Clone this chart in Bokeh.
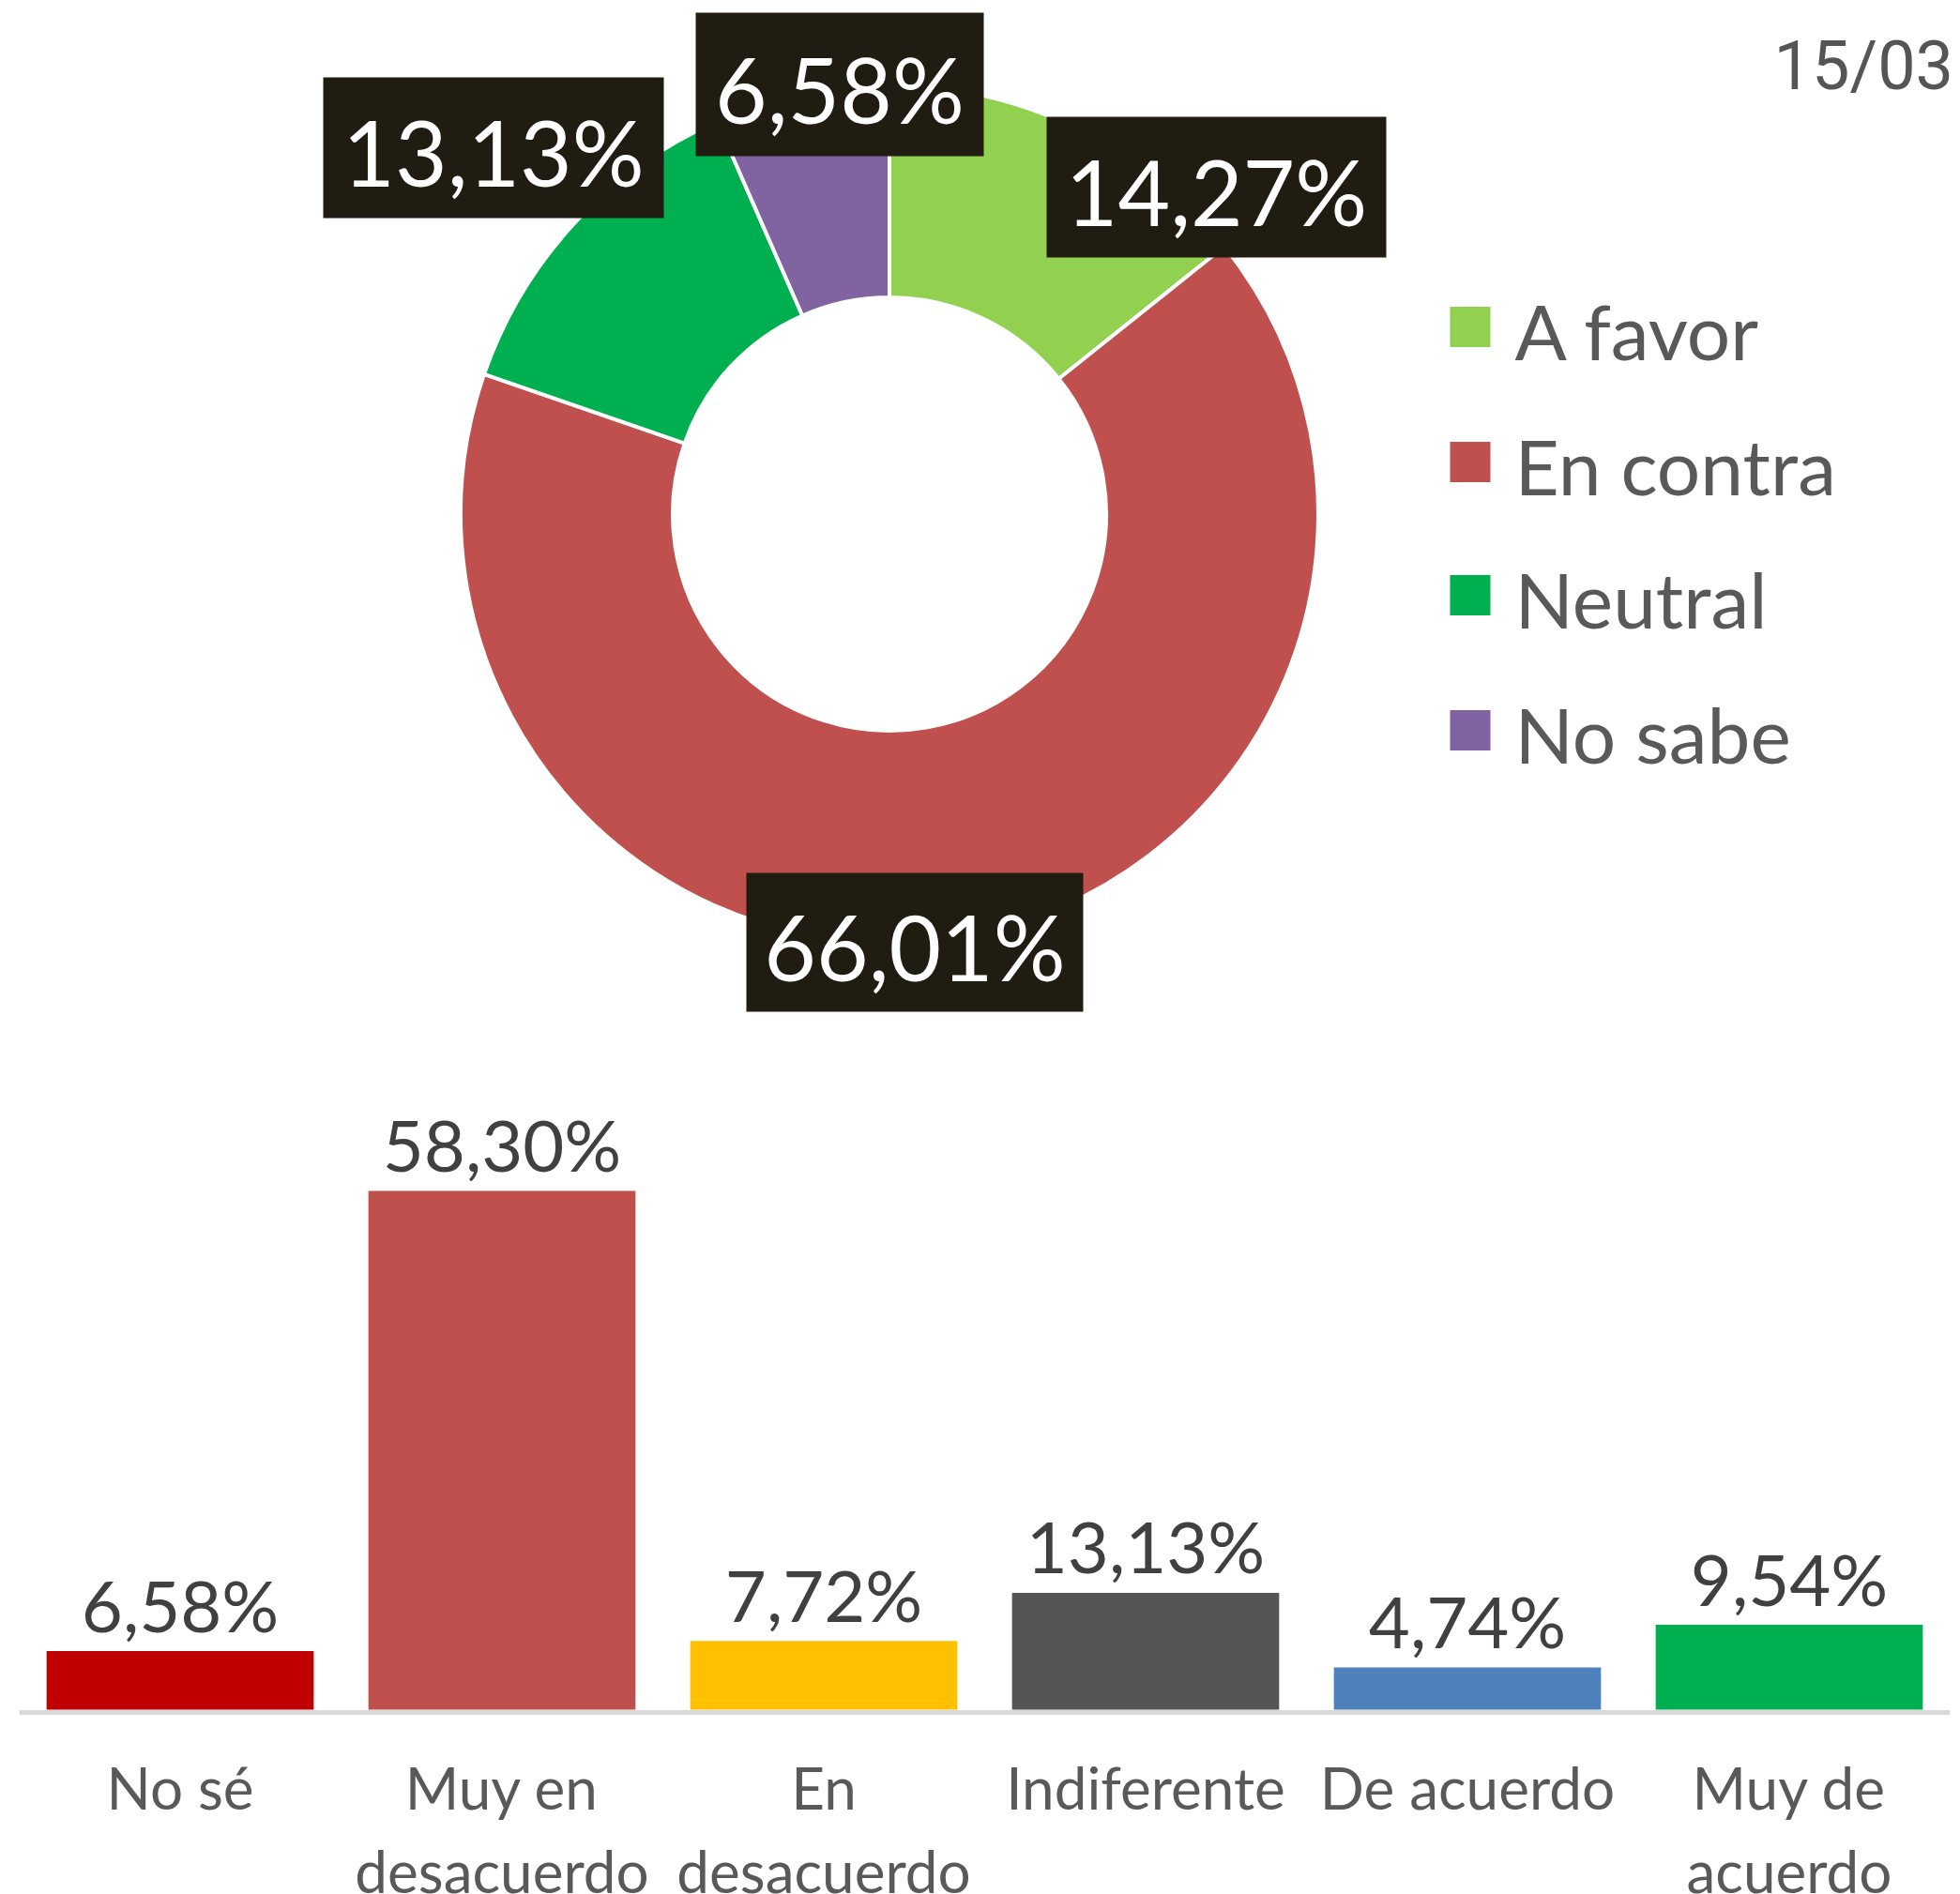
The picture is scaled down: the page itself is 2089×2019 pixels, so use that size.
from bokeh.plotting import figure
from bokeh.models import Range1d, ColumnDataSource, FactorRange, Label
from bokeh.layouts import column
from bokeh.embed import file_html
from bokeh.resources import INLINE
from bokeh.core.properties import value
import math

# ---------------- data ----------------
donut_labels = ["A favor", "En contra", "Neutral", "No sabe"]
donut_values = [14.27, 66.01, 13.13, 6.58]
donut_colors = ["#92D050", "#C0504D", "#00B050", "#8064A2"]

bar_categories = ["No sé", "Muy en\ndesacuerdo", "En\ndesacuerdo", "Indiferente", "De acuerdo", "Muy de\nacuerdo"]
bar_values = [6.58, 58.30, 7.72, 13.13, 4.74, 9.54]
bar_colors = ["#C00000", "#C0504D", "#FFC000", "#555555", "#4F81BD", "#00B050"]

date_text = "15/03/"

def fmt(v):
    return f"{v:.2f}%".replace(".", ",")

# ---------------- layout constants (page pixels) ----------------
W = 2089
H1 = 1140
H2 = 2019 - H1
BL, BR = 20, 11          # left / right borders shared by both figures (frames get aligned)

def py(y):  # page y -> data y in top figure
    return H1 - y

CX, CY = 947.5, 547.5
R_OUT, R_IN = 457, 231
lab_dx = [348.5, 27, -422, -53]
lab_dy = [-348.5, 456.5, -390.5, -458]
lab_w = [362, 359, 363, 307]
lab_h = [150, 148, 150, 153]
leg_y = [348, 492, 634, 778]

FONT = "Lato"

# ---------------- donut figure ----------------
p1 = figure(width=W, height=H1, x_range=Range1d(BL, W - BR), y_range=Range1d(0, H1),
            x_axis_type=None, y_axis_type=None, toolbar_location=None,
            output_backend="svg", min_border=0, min_border_left=BL, min_border_right=BR)
p1.grid.visible = False
p1.outline_line_color = None
p1.background_fill_color = "white"
p1.border_fill_color = "white"

total = sum(donut_values)
starts, ends = [], []
cum = 0.0
for v in donut_values:
    starts.append(math.pi / 2 - 2 * math.pi * cum / total)
    cum += v
    ends.append(math.pi / 2 - 2 * math.pi * cum / total)

n = len(donut_values)
src = ColumnDataSource(dict(
    x=[CX] * n, y=[py(CY)] * n, start=starts, end=ends, color=donut_colors,
))
p1.annular_wedge(x="x", y="y", inner_radius=R_IN, outer_radius=R_OUT,
                 start_angle="start", end_angle="end", direction="clock",
                 fill_color="color", line_color="white", line_width=4, source=src)

lsrc = ColumnDataSource(dict(
    x=[CX + d for d in lab_dx], y=[py(CY + d) for d in lab_dy],
    w=lab_w, h=lab_h, text=[fmt(v) for v in donut_values],
))
p1.rect(x="x", y="y", width="w", height="h", width_units="screen", height_units="screen",
        fill_color="#201C12", line_color=None, source=lsrc)
p1.text(x="x", y="y", text="text", text_align="center", text_baseline="middle",
        text_font=value(FONT), text_font_size="96px", text_color="white",
        y_offset=4, source=lsrc)

# legend
gsrc = ColumnDataSource(dict(
    x=[1566.5] * n, y=[py(v) for v in leg_y], tx=[1614] * n,
    color=donut_colors, text=donut_labels,
))
p1.rect(x="x", y="y", width=43, height=43, width_units="screen", height_units="screen",
        fill_color="color", line_color=None, source=gsrc)
p1.text(x="tx", y="y", text="text", text_align="left", text_baseline="middle",
        text_font=value(FONT), text_font_size="82px", text_color="#595959",
        y_offset=3, source=gsrc)

# date (cut off by the right edge, as in the original)
p1.add_layout(Label(x=1890, y=py(70), text=date_text, text_align="left",
                    text_baseline="alphabetic", text_font="Roboto", text_font_size="72px",
                    text_color="#555555"))

# ---------------- bar figure ----------------
BASE = 1822          # page y of the bar baseline
scale = 553 / 58.30  # px per percentage point
y_end = (BASE - H1) / scale
y_start = -(H1 + H2 - BASE) / scale

p2 = figure(width=W, height=H2, x_range=FactorRange(*bar_categories, range_padding=0),
            y_range=Range1d(y_start, y_end), toolbar_location=None,
            output_backend="svg", min_border_left=BL, min_border_right=BR,
            min_border_top=0, min_border_bottom=0)
p2.grid.visible = False
p2.outline_line_color = None
p2.yaxis.visible = False
p2.background_fill_color = "white"
p2.border_fill_color = "white"

bsrc = ColumnDataSource(dict(cat=bar_categories, val=bar_values, color=bar_colors,
                             text=[fmt(v) for v in bar_values]))
p2.vbar(x="cat", top="val", width=0.83, fill_color="color", line_color=None, source=bsrc)
p2.text(x="cat", y="val", text="text", text_align="center", text_baseline="alphabetic",
        y_offset=-50, text_font=value(FONT), text_font_size="76px", text_color="#404040",
        source=bsrc)

ax = p2.xaxis[0]
ax.fixed_location = -2.5 / scale
ax.axis_line_color = "#D9D9D9"
ax.axis_line_width = 5
ax.major_tick_line_color = None
ax.minor_tick_line_color = None
ax.major_label_text_font = FONT
ax.major_label_text_font_size = "62px"
ax.major_label_text_color = "#595959"
ax.major_label_standoff = 37
ax.group_text_font_size = "0px"

layout = column(p1, p2, spacing=0)
open("out.html", "w").write(file_html(layout, INLINE))
